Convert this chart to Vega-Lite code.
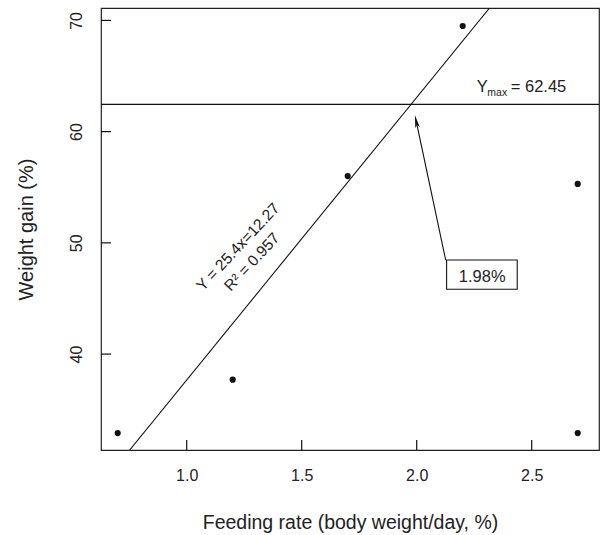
{
  "$schema": "https://vega.github.io/schema/vega-lite/v6.json",
  "width": 498,
  "height": 442,
  "autosize": {"type": "none"},
  "padding": {"left": 101, "top": 8, "right": 1, "bottom": 85},
  "background": "white",
  "config": {
    "font": "Liberation Sans",
    "view": {"stroke": "#222", "strokeWidth": 1.2},
    "axis": {
      "grid": false,
      "domain": false,
      "ticks": false,
      "tickSize": 0,
      "labelFont": "Liberation Sans",
      "labelFontSize": 16,
      "labelColor": "#222",
      "titleFont": "Liberation Sans",
      "titleFontSize": 19.5,
      "titleFontWeight": "normal",
      "titleColor": "#222"
    }
  },
  "datasets": {
    "points": [
      {"rate": 0.70, "gain": 32.9},
      {"rate": 1.20, "gain": 37.7},
      {"rate": 1.70, "gain": 56.0},
      {"rate": 2.20, "gain": 69.5},
      {"rate": 2.70, "gain": 55.3},
      {"rate": 2.70, "gain": 32.9}
    ],
    "fit": [
      {"rate": 0.7522, "gain": 31.376},
      {"rate": 2.3167, "gain": 71.115}
    ],
    "xticks": [{"v": 1.0}, {"v": 1.5}, {"v": 2.0}, {"v": 2.5}],
    "yticks": [{"v": 40}, {"v": 50}, {"v": 60}, {"v": 70}]
  },
  "layer": [
    {
      "data": {"name": "fit"},
      "mark": {"type": "line", "color": "#111", "strokeWidth": 1.1, "clip": true},
      "encoding": {
        "x": {
          "field": "rate", "type": "quantitative",
          "scale": {"domain": [0.6274, 2.7926], "nice": false, "zero": false},
          "axis": {
            "values": [1, 1.5, 2, 2.5], "format": ".1f",
            "labelPadding": 17,
            "title": "Feeding rate (body weight/day, %)",
            "titlePadding": 30
          }
        },
        "y": {
          "field": "gain", "type": "quantitative",
          "scale": {"domain": [31.376, 71.115], "nice": false, "zero": false},
          "axis": {
            "values": [40, 50, 60, 70],
            "labelAngle": -90,
            "labelAlign": "center",
            "labelBaseline": "bottom",
            "labelPadding": 17,
            "title": "Weight gain (%)",
            "titleFontSize": 20,
            "titlePadding": 32
          }
        }
      }
    },
    {
      "data": {"name": "xticks"},
      "mark": {"type": "rule", "color": "#111", "strokeWidth": 1.2},
      "encoding": {
        "x": {"field": "v", "type": "quantitative"},
        "y": {"datum": 31.376},
        "y2": {"datum": 32.28}
      }
    },
    {
      "data": {"name": "yticks"},
      "mark": {"type": "rule", "color": "#111", "strokeWidth": 1.2},
      "encoding": {
        "y": {"field": "v", "type": "quantitative"},
        "x": {"datum": 0.6274},
        "x2": {"datum": 0.671}
      }
    },
    {
      "data": {"name": "points"},
      "mark": {"type": "point", "filled": true, "color": "#111", "size": 38, "opacity": 1},
      "encoding": {
        "x": {"field": "rate", "type": "quantitative"},
        "y": {"field": "gain", "type": "quantitative"}
      }
    },
    {
      "data": {"values": [{"ymax": 62.45}]},
      "mark": {"type": "rule", "color": "#111", "strokeWidth": 1.1},
      "encoding": {"y": {"field": "ymax", "type": "quantitative"}}
    },
    {
      "data": {"values": [
        {"x": 2.261, "y": 63.54, "t": "Y", "s": "big"},
        {"x": 2.307, "y": 63.21, "t": "max", "s": "small"},
        {"x": 2.409, "y": 63.54, "t": "= 62.45", "s": "big"}
      ]},
      "mark": {"type": "text", "align": "left", "baseline": "alphabetic", "color": "#222"},
      "encoding": {
        "x": {"field": "x", "type": "quantitative"},
        "y": {"field": "y", "type": "quantitative"},
        "text": {"field": "t"},
        "size": {"field": "s", "type": "nominal", "scale": {"domain": ["big", "small"], "range": [16.5, 10.5]}, "legend": null}
      }
    },
    {
      "data": {"values": [{"x": 2.126, "y": 48.46, "x2": 1.998, "y2": 60.93}]},
      "mark": {"type": "rule", "color": "#111", "strokeWidth": 1.1},
      "encoding": {
        "x": {"field": "x", "type": "quantitative"},
        "y": {"field": "y", "type": "quantitative"},
        "x2": {"field": "x2"},
        "y2": {"field": "y2"}
      }
    },
    {
      "data": {"values": [{"x": 1.998, "y": 60.93}]},
      "mark": {"type": "point", "filled": true, "color": "#111", "opacity": 1, "size": 169, "angle": -12,
               "shape": "M0,-1L0.36,1L0,0.55L-0.36,1Z"},
      "encoding": {
        "x": {"field": "x", "type": "quantitative"},
        "y": {"field": "y", "type": "quantitative"}
      }
    },
    {
      "data": {"values": [{"x": 2.130, "x2": 2.437, "y": 48.46, "y2": 45.83}]},
      "mark": {"type": "rect", "fill": "white", "stroke": "#111", "strokeWidth": 1.1},
      "encoding": {
        "x": {"field": "x", "type": "quantitative"},
        "x2": {"field": "x2"},
        "y": {"field": "y", "type": "quantitative"},
        "y2": {"field": "y2"}
      }
    },
    {
      "data": {"values": [{"x": 2.285, "y": 46.96, "t": "1.98%"}]},
      "mark": {"type": "text", "align": "center", "baseline": "middle", "fontSize": 16.5, "color": "#222"},
      "encoding": {
        "x": {"field": "x", "type": "quantitative"},
        "y": {"field": "y", "type": "quantitative"},
        "text": {"field": "t"}
      }
    },
    {
      "data": {"values": [
        {"x": 1.223, "y": 49.63, "t": "Y = 25.4x=12.27"},
        {"x": 1.284, "y": 48.28, "t": "R² = 0.957"}
      ]},
      "mark": {"type": "text", "align": "center", "baseline": "middle", "fontSize": 15.5, "angle": -47, "color": "#222"},
      "encoding": {
        "x": {"field": "x", "type": "quantitative"},
        "y": {"field": "y", "type": "quantitative"},
        "text": {"field": "t"}
      }
    }
  ]
}
